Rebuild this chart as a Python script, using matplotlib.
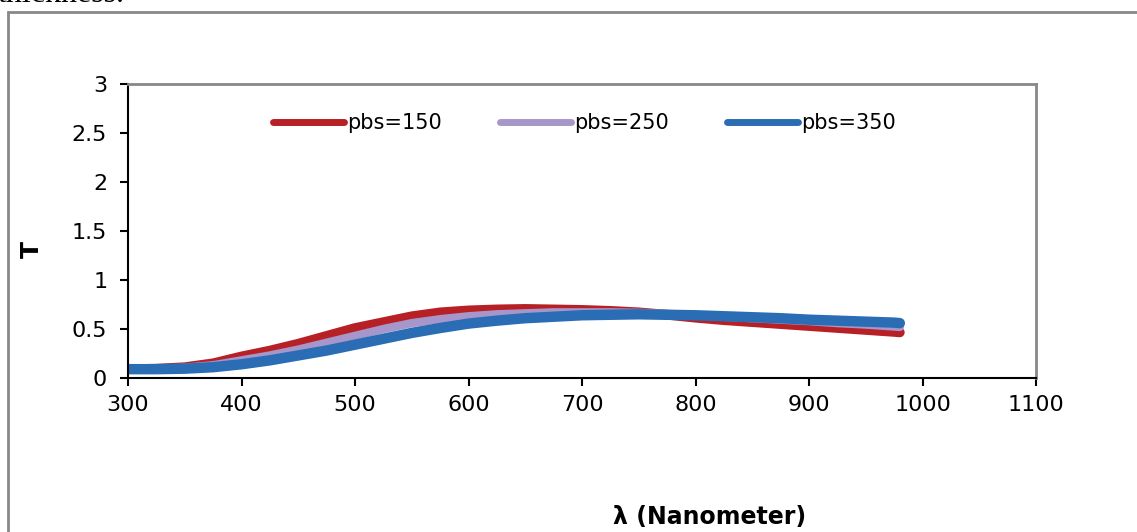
import numpy as np
import matplotlib
matplotlib.use('Agg')
import matplotlib.pyplot as plt
from matplotlib.patches import Rectangle

plt.rcParams['font.family'] = ['DejaVu Sans']

# wavelength (nm)
wl = [300, 325, 350, 375, 400, 425, 450, 475, 500, 525, 550, 575, 600, 625,
      650, 675, 700, 725, 750, 775, 800, 825, 850, 875, 900, 925, 950, 975, 980]

t_150 = [0.09, 0.095, 0.11, 0.15, 0.22, 0.28, 0.35, 0.43, 0.51, 0.57, 0.63,
         0.67, 0.69, 0.70, 0.705, 0.70, 0.695, 0.685, 0.67, 0.645, 0.615,
         0.59, 0.57, 0.55, 0.53, 0.51, 0.49, 0.47, 0.465]
t_250 = [0.09, 0.095, 0.105, 0.13, 0.18, 0.23, 0.29, 0.36, 0.43, 0.50, 0.56,
         0.60, 0.63, 0.65, 0.66, 0.67, 0.67, 0.67, 0.665, 0.655, 0.64,
         0.625, 0.61, 0.595, 0.58, 0.56, 0.545, 0.525, 0.52]
t_350 = [0.09, 0.09, 0.095, 0.11, 0.14, 0.18, 0.23, 0.28, 0.34, 0.40, 0.46,
         0.51, 0.555, 0.585, 0.61, 0.625, 0.64, 0.645, 0.65, 0.645, 0.64,
         0.63, 0.62, 0.61, 0.595, 0.585, 0.575, 0.565, 0.56]

labels = ['pbs=150', 'pbs=250', 'pbs=350']
colors = ['#B72025', '#A796C9', '#2A6DB5']
widths = [7, 6, 7.5]

fig = plt.figure(figsize=(11.37, 5.32), dpi=100)
ax = fig.add_axes([0.1126, 0.2895, 0.7986, 0.5526])

for y, lab, c, w in zip([t_150, t_250, t_350], labels, colors, widths):
    ax.plot(wl, y, color=c, lw=w, label=lab, solid_capstyle='round')

ax.set_xlim(300, 1100)
ax.set_ylim(0, 3)
ax.set_xticks(range(300, 1101, 100))
ax.set_yticks([0, 0.5, 1, 1.5, 2, 2.5, 3])
ax.set_yticklabels(['0', '0.5', '1', '1.5', '2', '2.5', '3'])

for s in ['left', 'bottom']:
    ax.spines[s].set_color('black')
    ax.spines[s].set_linewidth(1.5)
for s in ['top', 'right']:
    ax.spines[s].set_color('#888888')
    ax.spines[s].set_linewidth(2)

ax.tick_params(axis='both', direction='out', length=6, width=1.5,
               labelsize=16, colors='black')
ax.tick_params(axis='y', pad=9)
ax.tick_params(axis='x', pad=6)

leg = ax.legend(loc='center', bbox_to_anchor=(0.503, 0.867), ncol=3,
                frameon=False, fontsize=15, handlelength=3.4,
                handletextpad=0.15, columnspacing=2.8)
for h in leg.get_lines():
    h.set_linewidth(5)

fig.text(32 / 1137, 1 - 250 / 532, 'T', rotation=90, fontsize=18,
         fontweight='bold', ha='center', va='center')
fig.text(710 / 1137, 1 - 517 / 532, 'λ (Nanometer)', fontsize=17,
         fontweight='bold', ha='center', va='center')

# outer chart frame
fig.patches.append(Rectangle((8 / 1137, -0.1), 1.2, 1.1 - 12 / 532,
                             transform=fig.transFigure, fill=False,
                             edgecolor='#888888', lw=2))

# cropped caption text from the page above
fig.text(-0.002, 1 - 2 / 532, 'thickness.', fontsize=23,
         family='Liberation Serif', va='baseline', ha='left')

fig.savefig('out.png', dpi=100)
